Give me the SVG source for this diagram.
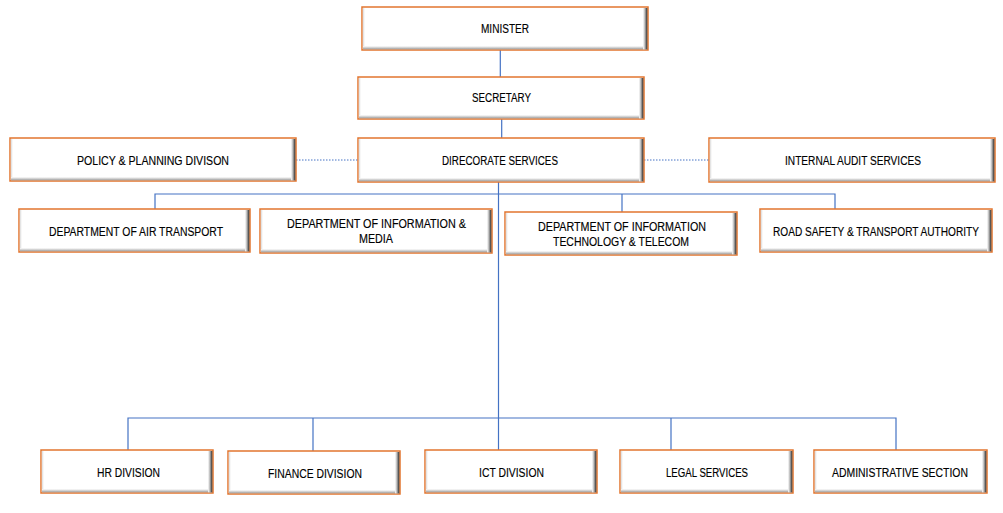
<svg xmlns="http://www.w3.org/2000/svg" width="1003" height="513" viewBox="0 0 1003 513">
<style>
.box{fill:#ffffff;stroke:#E2762F;stroke-width:1.5}
.bR{fill:url(#gR)}
.bB{fill:url(#gB)}
.bL{fill:#e4e4e4}
.lbl{font-family:"Liberation Sans",Arial,sans-serif;font-size:12.5px;fill:#000;stroke:#000;stroke-width:0.15;text-anchor:middle}
.ln{stroke:#4472C4;stroke-width:1.2;fill:none}
.dot{stroke:#4472C4;stroke-width:1;stroke-dasharray:1.5 1.5;fill:none}
</style>
<defs>
<linearGradient id="gR" x1="0" y1="0" x2="1" y2="0">
<stop offset="0" stop-color="#ffffff"/>
<stop offset="0.45" stop-color="#b5b5b5"/>
<stop offset="0.8" stop-color="#5a5a5a"/>
<stop offset="1" stop-color="#3a2618"/>
</linearGradient>
<linearGradient id="gB" x1="0" y1="0" x2="0" y2="1">
<stop offset="0" stop-color="#ffffff"/>
<stop offset="0.5" stop-color="#cfcfcf"/>
<stop offset="1" stop-color="#9a9a9a"/>
</linearGradient>
</defs>
<rect width="1003" height="513" fill="#ffffff"/>
<g id="connectors">
<line class="ln" x1="500.3" y1="50" x2="500.3" y2="77"/>
<line class="ln" x1="501.7" y1="119" x2="501.7" y2="138"/>
<line class="ln" x1="498.5" y1="182" x2="498.5" y2="450"/>
<polyline class="ln" points="155,209 155,194 835,194 835,209"/>
<line class="ln" x1="622" y1="194" x2="622" y2="212"/>
<polyline class="ln" points="128,450 128,418 896,418 896,450"/>
<line class="ln" x1="313" y1="418" x2="313" y2="451"/>
<line class="ln" x1="671" y1="418" x2="671" y2="450"/>
<line class="dot" x1="296" y1="160" x2="358" y2="160"/>
<line class="dot" x1="644" y1="160" x2="709" y2="160"/>
</g>
<g id="minister">
<rect class="box" x="362" y="7" width="286" height="43"/>
<rect class="bL" x="362.8" y="8" width="1.5" height="41"/>
<rect class="bB" x="363" y="46" width="284" height="3.3"/>
<rect class="bR" x="643" y="8" width="4.3" height="41.3"/>
<text class="lbl" x="505" y="33" textLength="48" lengthAdjust="spacingAndGlyphs">MINISTER</text>
</g>
<g id="secretary">
<rect class="box" x="358" y="77" width="286" height="42"/>
<rect class="bL" x="358.8" y="78" width="1.5" height="40"/>
<rect class="bB" x="359" y="115" width="284" height="3.3"/>
<rect class="bR" x="639" y="78" width="4.3" height="40.3"/>
<text class="lbl" x="501.5" y="102" textLength="59" lengthAdjust="spacingAndGlyphs">SECRETARY</text>
</g>
<g id="directorate">
<rect class="box" x="358" y="138" width="286" height="44"/>
<rect class="bL" x="358.8" y="139" width="1.5" height="42"/>
<rect class="bB" x="359" y="178" width="284" height="3.3"/>
<rect class="bR" x="639" y="139" width="4.3" height="42.3"/>
<text class="lbl" x="500" y="165" textLength="116" lengthAdjust="spacingAndGlyphs">DIRECORATE SERVICES</text>
</g>
<g id="policy">
<rect class="box" x="10" y="138" width="286" height="43"/>
<rect class="bL" x="10.8" y="139" width="1.5" height="41"/>
<rect class="bB" x="11" y="177" width="284" height="3.3"/>
<rect class="bR" x="291" y="139" width="4.3" height="41.3"/>
<text class="lbl" x="153" y="165" textLength="152" lengthAdjust="spacingAndGlyphs">POLICY &amp; PLANNING DIVISON</text>
</g>
<g id="audit">
<rect class="box" x="709" y="138" width="286" height="44"/>
<rect class="bL" x="709.8" y="139" width="1.5" height="42"/>
<rect class="bB" x="710" y="178" width="284" height="3.3"/>
<rect class="bR" x="990" y="139" width="4.3" height="42.3"/>
<text class="lbl" x="853" y="165" textLength="136" lengthAdjust="spacingAndGlyphs">INTERNAL AUDIT SERVICES</text>
</g>
<g id="air">
<rect class="box" x="19" y="209" width="231" height="43"/>
<rect class="bL" x="19.8" y="210" width="1.5" height="41"/>
<rect class="bB" x="20" y="248" width="229" height="3.3"/>
<rect class="bR" x="245" y="210" width="4.3" height="41.3"/>
<text class="lbl" x="136" y="236" textLength="174" lengthAdjust="spacingAndGlyphs">DEPARTMENT OF AIR TRANSPORT</text>
</g>
<g id="media">
<rect class="box" x="260" y="209" width="232" height="44"/>
<rect class="bL" x="260.8" y="210" width="1.5" height="42"/>
<rect class="bB" x="261" y="249" width="230" height="3.3"/>
<rect class="bR" x="487" y="210" width="4.3" height="42.3"/>
<text class="lbl" x="376.5" y="228" textLength="179" lengthAdjust="spacingAndGlyphs">DEPARTMENT OF INFORMATION &amp;</text>
<text class="lbl" x="376" y="243" textLength="34" lengthAdjust="spacingAndGlyphs">MEDIA</text>
</g>
<g id="ittelecom">
<rect class="box" x="505" y="212" width="232" height="43"/>
<rect class="bL" x="505.8" y="213" width="1.5" height="41"/>
<rect class="bB" x="506" y="251" width="230" height="3.3"/>
<rect class="bR" x="732" y="213" width="4.3" height="41.3"/>
<text class="lbl" x="622" y="231" textLength="168" lengthAdjust="spacingAndGlyphs">DEPARTMENT OF INFORMATION</text>
<text class="lbl" x="621" y="246" textLength="136" lengthAdjust="spacingAndGlyphs">TECHNOLOGY &amp; TELECOM</text>
</g>
<g id="road">
<rect class="box" x="760" y="209" width="232" height="43"/>
<rect class="bL" x="760.8" y="210" width="1.5" height="41"/>
<rect class="bB" x="761" y="248" width="230" height="3.3"/>
<rect class="bR" x="987" y="210" width="4.3" height="41.3"/>
<text class="lbl" x="876" y="236" textLength="206" lengthAdjust="spacingAndGlyphs">ROAD SAFETY &amp; TRANSPORT AUTHORITY</text>
</g>
<g id="hr">
<rect class="box" x="41" y="450" width="172" height="43"/>
<rect class="bL" x="41.8" y="451" width="1.5" height="41"/>
<rect class="bB" x="42" y="489" width="170" height="3.3"/>
<rect class="bR" x="208" y="451" width="4.3" height="41.3"/>
<text class="lbl" x="128.5" y="477" textLength="63" lengthAdjust="spacingAndGlyphs">HR DIVISION</text>
</g>
<g id="finance">
<rect class="box" x="228" y="451" width="172" height="43"/>
<rect class="bL" x="228.8" y="452" width="1.5" height="41"/>
<rect class="bB" x="229" y="490" width="170" height="3.3"/>
<rect class="bR" x="395" y="452" width="4.3" height="41.3"/>
<text class="lbl" x="315" y="478" textLength="94" lengthAdjust="spacingAndGlyphs">FINANCE DIVISION</text>
</g>
<g id="ict">
<rect class="box" x="425" y="450" width="172" height="43"/>
<rect class="bL" x="425.8" y="451" width="1.5" height="41"/>
<rect class="bB" x="426" y="489" width="170" height="3.3"/>
<rect class="bR" x="592" y="451" width="4.3" height="41.3"/>
<text class="lbl" x="511.5" y="477" textLength="65" lengthAdjust="spacingAndGlyphs">ICT DIVISION</text>
</g>
<g id="legal">
<rect class="box" x="620" y="450" width="173" height="43"/>
<rect class="bL" x="620.8" y="451" width="1.5" height="41"/>
<rect class="bB" x="621" y="489" width="171" height="3.3"/>
<rect class="bR" x="788" y="451" width="4.3" height="41.3"/>
<text class="lbl" x="707" y="477" textLength="82" lengthAdjust="spacingAndGlyphs">LEGAL SERVICES</text>
</g>
<g id="admin">
<rect class="box" x="814" y="450" width="173" height="43"/>
<rect class="bL" x="814.8" y="451" width="1.5" height="41"/>
<rect class="bB" x="815" y="489" width="171" height="3.3"/>
<rect class="bR" x="982" y="451" width="4.3" height="41.3"/>
<text class="lbl" x="900" y="477" textLength="136" lengthAdjust="spacingAndGlyphs">ADMINISTRATIVE SECTION</text>
</g>
</svg>
